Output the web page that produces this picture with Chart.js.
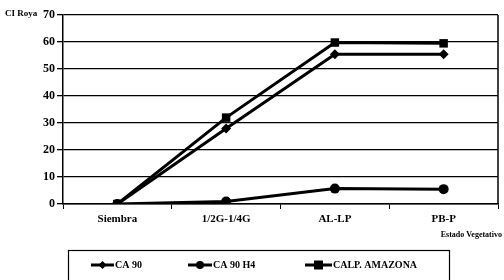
<!DOCTYPE html>
<html>
<head>
<meta charset="utf-8">
<script src="https://cdn.jsdelivr.net/npm/chart.js@4"></script>
<style>
  html, body { margin: 0; padding: 0; background: #fff; }
  #wrap { width: 504px; height: 280px; position: relative; }
</style>
</head>
<body>
<div id="wrap"><canvas id="grafico-roya"></canvas></div>
<script>
'use strict';

/* Datos */
const categorias  = ['Siembra', '1/2G-1/4G', 'AL-LP', 'PB-P'];
const ca90        = [0, 28, 55.5, 55.5];
const ca90h4      = [0, 0.9, 5.7, 5.5];
const calpAmazona = [0, 32, 59.8, 59.5];
const nombres     = ['CA 90', 'CA 90 H4', 'CALP. AMAZONA'];
const ticksY      = [0, 10, 20, 30, 40, 50, 60, 70];

const FUENTE = '"Liberation Serif", "DejaVu Serif", serif';

/* Leyenda en caja + borde derecho + títulos de ejes */
const extras = {
    id: 'extras',
    afterDraw(chart) {
        const { ctx, chartArea } = chart;
        ctx.save();
        // borde derecho del área
        ctx.strokeStyle = '#000';
        ctx.lineWidth = 1.5;
        ctx.beginPath();
        ctx.moveTo(chartArea.right, chartArea.top);
        ctx.lineTo(chartArea.right, chartArea.bottom);
        ctx.stroke();

        // títulos
        ctx.fillStyle = '#000';
        ctx.font = 'bold 9px ' + FUENTE;
        ctx.textBaseline = 'middle';
        ctx.textAlign = 'left';
        ctx.fillText('CI Roya', 5, 14);
        ctx.font = 'bold 8px ' + FUENTE;
        ctx.textAlign = 'right';
        ctx.fillText('Estado Vegetativo', 502, 235);

        // caja de leyenda
        ctx.lineWidth = 1.2;
        ctx.strokeRect(68.5, 250.5, 381, 40);

        const items = [
            { x0: 91, x1: 114 },
            { x0: 188, x1: 212 },
            { x0: 305, x1: 332 }
        ];
        ctx.font = 'bold 10px ' + FUENTE;
        ctx.textAlign = 'left';
        chart.data.datasets.forEach((ds, i) => {
            const it = items[i];
            const y = 265;
            ctx.strokeStyle = '#000';
            ctx.lineWidth = 3;
            ctx.beginPath();
            ctx.moveTo(it.x0, y);
            ctx.lineTo(it.x1, y);
            ctx.stroke();
            const cx = (it.x0 + it.x1) / 2;
            ctx.fillStyle = '#000';
            ctx.beginPath();
            if (ds.pointStyle === 'rect') {
                ctx.rect(cx - 4.5, y - 4.5, 9, 9);
            } else if (ds.pointStyle === 'rectRot') {
                ctx.moveTo(cx, y - 4); ctx.lineTo(cx + 4, y);
                ctx.lineTo(cx, y + 4); ctx.lineTo(cx - 4, y);
                ctx.closePath();
            } else {
                ctx.arc(cx, y, 4, 0, Math.PI * 2);
            }
            ctx.fill();
            ctx.fillText(ds.label, it.x1 + 1, y + 0.5);
        });
        ctx.restore();
    }
};

function serie(label, data, estilo, radio) {
    return {
        label,
        data,
        borderColor: '#000',
        backgroundColor: '#000',
        borderWidth: 3,
        pointStyle: estilo,
        pointRadius: radio,
        pointHoverRadius: radio,
        pointBorderWidth: 0,
        tension: 0
    };
}

new Chart(document.getElementById('grafico-roya'), {
    type: 'line',
    data: {
        labels: categorias,
        datasets: [
            serie(nombres[0], ca90, 'rectRot', 5),
            serie(nombres[1], ca90h4, 'circle', 5),
            serie(nombres[2], calpAmazona, 'rect', 6)
        ]
    },
    plugins: [extras],
    options: {
        responsive: true,
        maintainAspectRatio: false,
        animation: false,
        layout: { padding: { top: 15, right: 4, left: 0, bottom: 0 } },
        plugins: {
            legend: { display: false },
            tooltip: { enabled: false }
        },
        scales: {
            x: {
                offset: true,
                grid: {
                    offset: true,
                    drawOnChartArea: false,
                    drawTicks: true,
                    tickLength: 5,
                    color: '#000'
                },
                border: { color: '#000', width: 1.5 },
                ticks: {
                    color: '#000',
                    font: { family: FUENTE, size: 11, weight: 'bold' },
                    padding: 4,
                    maxRotation: 0
                },
                afterFit: s => { s.height = 76; }
            },
            y: {
                min: 0,
                max: 70,
                afterBuildTicks: s => { s.ticks = ticksY.map(v => ({ value: v })); },
                grid: {
                    color: '#000',
                    lineWidth: 1.3,
                    tickLength: 6
                },
                border: { color: '#000', width: 1.5 },
                ticks: {
                    color: '#000',
                    font: { family: FUENTE, size: 12, weight: 'bold' },
                    padding: 2
                },
                afterFit: s => { s.width = 63; }
            }
        }
    }
});
</script>
</body>
</html>
